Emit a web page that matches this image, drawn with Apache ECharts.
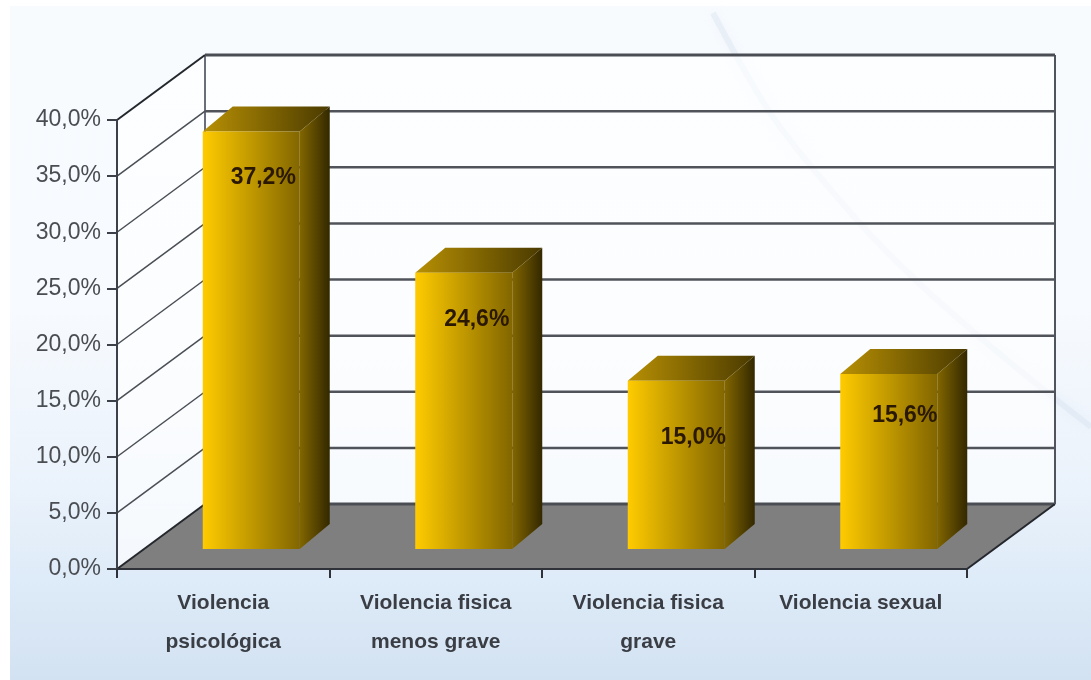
<!DOCTYPE html>
<html>
<head>
<meta charset="utf-8">
<style>html,body{margin:0;padding:0;background:#fff}#main{width:1091px;height:680px}</style>
<script src="https://cdn.jsdelivr.net/npm/echarts@6/dist/echarts.min.js"></script>
</head>
<body>
<div id="main"></div>
<script>
var categories = ['Violencia\npsicológica', 'Violencia fisica\nmenos grave', 'Violencia fisica\ngrave', 'Violencia sexual'];
var values = [37.2, 24.6, 15.0, 15.6];
var yTicks = [0, 5, 10, 15, 20, 25, 30, 35, 40];

// layout of the fake 3D box, px
var WALL_DX = 88, WALL_DY = -65;
var BAR_SHIFT_X = 28, BAR_SHIFT_Y = -20, BAR_W = 97, BAR_DX = 30, BAR_DY = -25;
var labelShift = [[12, 46], [13, 47], [17, 57], [16, 42]];

function fmt(v) {
    return v.toFixed(1).replace('.', ',') + '%';
}

function hGrad(a, b) {
    return {type: 'linear', x: 0, y: 0, x2: 1, y2: 0, colorStops: [{offset: 0, color: a}, {offset: 1, color: b}]};
}

function renderFloor(params, api) {
    var g = params.coordSys, y = g.y + g.height, r = g.x + g.width;
    var wall = 'rgba(255,255,255,0.65)';
    return {
        type: 'group',
        children: [
            {type: 'polygon', shape: {points: [[g.x + WALL_DX, g.y + WALL_DY], [r + WALL_DX, g.y + WALL_DY], [r + WALL_DX, y + WALL_DY], [g.x + WALL_DX, y + WALL_DY]]},
                style: {fill: wall}},
            {type: 'polygon', shape: {points: [[g.x, g.y], [g.x + WALL_DX, g.y + WALL_DY], [g.x + WALL_DX, y + WALL_DY], [g.x, y]]},
                style: {fill: wall}},
            {type: 'polygon', shape: {points: [[g.x, y], [r, y], [r + WALL_DX, y + WALL_DY], [g.x + WALL_DX, y + WALL_DY]]},
                style: {fill: '#7f7f80'}}
        ]
    };
}

function renderWall(params, api) {
    var g = params.coordSys;
    var v = api.value(1);
    var y = api.coord([0, v])[1];
    var edge = v === 0 || v === yTicks[yTicks.length - 1];
    var diag = {stroke: edge ? '#24272c' : '#4a4e55', lineWidth: edge ? 2 : 1.5};
    var back = {stroke: edge ? '#4a4e54' : '#50545a', lineWidth: edge ? 3 : 2.5};
    var kids = [
        {type: 'line', shape: {x1: g.x, y1: y, x2: g.x + WALL_DX, y2: y + WALL_DY}, style: diag},
        {type: 'line', shape: {x1: g.x + WALL_DX, y1: y + WALL_DY, x2: g.x + g.width + WALL_DX, y2: y + WALL_DY}, style: back}
    ];
    if (v === 0) {
        kids.push({type: 'line', shape: {x1: g.x + g.width, y1: y, x2: g.x + g.width + WALL_DX, y2: y + WALL_DY}, style: diag});
        kids.push({type: 'line', shape: {x1: g.x + WALL_DX, y1: y + WALL_DY, x2: g.x + WALL_DX, y2: g.y + WALL_DY}, style: {stroke: '#6a6e78', lineWidth: 2}});
        kids.push({type: 'line', shape: {x1: g.x + g.width + WALL_DX, y1: y + WALL_DY, x2: g.x + g.width + WALL_DX, y2: g.y + WALL_DY}, style: {stroke: '#50545c', lineWidth: 2}});
    }
    return {type: 'group', children: kids};
}

function renderBar(params, api) {
    var i = params.dataIndex;
    var v = api.value(1);
    var top = api.coord([i, v]);
    var base = api.coord([i, 0]);
    var x0 = top[0] + BAR_SHIFT_X - BAR_W / 2, x1 = x0 + BAR_W;
    var yT = top[1] + BAR_SHIFT_Y, yB = base[1] + BAR_SHIFT_Y;
    return {
        type: 'group',
        children: [
            {type: 'polygon', shape: {points: [[x0, yT], [x1, yT], [x1 + BAR_DX, yT + BAR_DY], [x0 + BAR_DX, yT + BAR_DY]]},
                style: {fill: hGrad('#b89004', '#4a3a00')}},
            {type: 'polygon', shape: {points: [[x1, yT], [x1 + BAR_DX, yT + BAR_DY], [x1 + BAR_DX, yB + BAR_DY], [x1, yB]]},
                style: {fill: hGrad('#826600', '#332800')}},
            {type: 'rect', shape: {x: x0, y: yT, width: BAR_W, height: yB - yT},
                style: {fill: hGrad('#ffcb00', '#826600')}},
            {type: 'text', style: {
                x: top[0] + BAR_SHIFT_X + labelShift[i][0], y: yT + labelShift[i][1],
                text: fmt(v), align: 'center', verticalAlign: 'middle',
                font: 'bold 23px "Liberation Sans"', fill: '#2a1800'
            }}
        ]
    };
}

var chart = echarts.init(document.getElementById('main'));
chart.setOption({
    animation: false,
    textStyle: {fontFamily: '"Liberation Sans"'},
    graphic: [
        {type: 'rect', z: -10, shape: {x: 10, y: 6, width: 1081, height: 674},
            style: {fill: {type: 'linear', x: 0, y: 0, x2: 0, y2: 1, colorStops: [
                {offset: 0, color: '#f8fbfe'}, {offset: 0.45, color: '#f7fafe'},
                {offset: 0.72, color: '#eaf2fb'}, {offset: 0.85, color: '#deebf8'}, {offset: 1, color: '#d3e2f2'}]}}},
        // faint diagonal swoosh of the slide background
        {type: 'polyline', z: -9, shape: {points: [[713, 13], [773, 117], [857, 220], [923, 287], [1007, 360], [1091, 427]], smooth: 0.3},
            style: {stroke: 'rgba(205,218,235,0.3)', lineWidth: 6, fill: null, shadowBlur: 12, shadowColor: 'rgba(205,218,235,0.6)'}}
    ],
    grid: {left: 117, right: 124, top: 120, bottom: 111},
    xAxis: {
        type: 'category',
        data: categories,
        z: 5,
        axisLine: {lineStyle: {color: '#2f3238', width: 2}},
        axisTick: {show: true, length: 9, lineStyle: {color: '#2f3238', width: 2}},
        axisLabel: {color: '#3a3d44', fontWeight: 'bold', fontSize: 21, lineHeight: 39, margin: 15, interval: 0}
    },
    yAxis: {
        type: 'value',
        min: 0, max: 40, interval: 5,
        z: 5,
        splitLine: {show: false},
        axisLine: {show: true, lineStyle: {color: '#3c4048', width: 2}},
        axisTick: {show: true, length: 10, lineStyle: {color: '#3c4048', width: 2}},
        axisLabel: {color: '#4a4d52', fontSize: 23, margin: 16, formatter: function (v) { return fmt(v); }}
    },
    series: [
        {type: 'custom', z: 1, renderItem: renderFloor, data: [[0, 0]], encode: {x: 0, y: 1}, silent: true},
        {type: 'custom', z: 2, renderItem: renderWall, data: yTicks.map(function (t) { return [0, t]; }), encode: {x: 0, y: 1}, silent: true},
        {type: 'custom', z: 3, renderItem: renderBar, data: values.map(function (v, i) { return [i, v]; }), encode: {x: 0, y: 1}}
    ]
});
</script>
</body>
</html>
